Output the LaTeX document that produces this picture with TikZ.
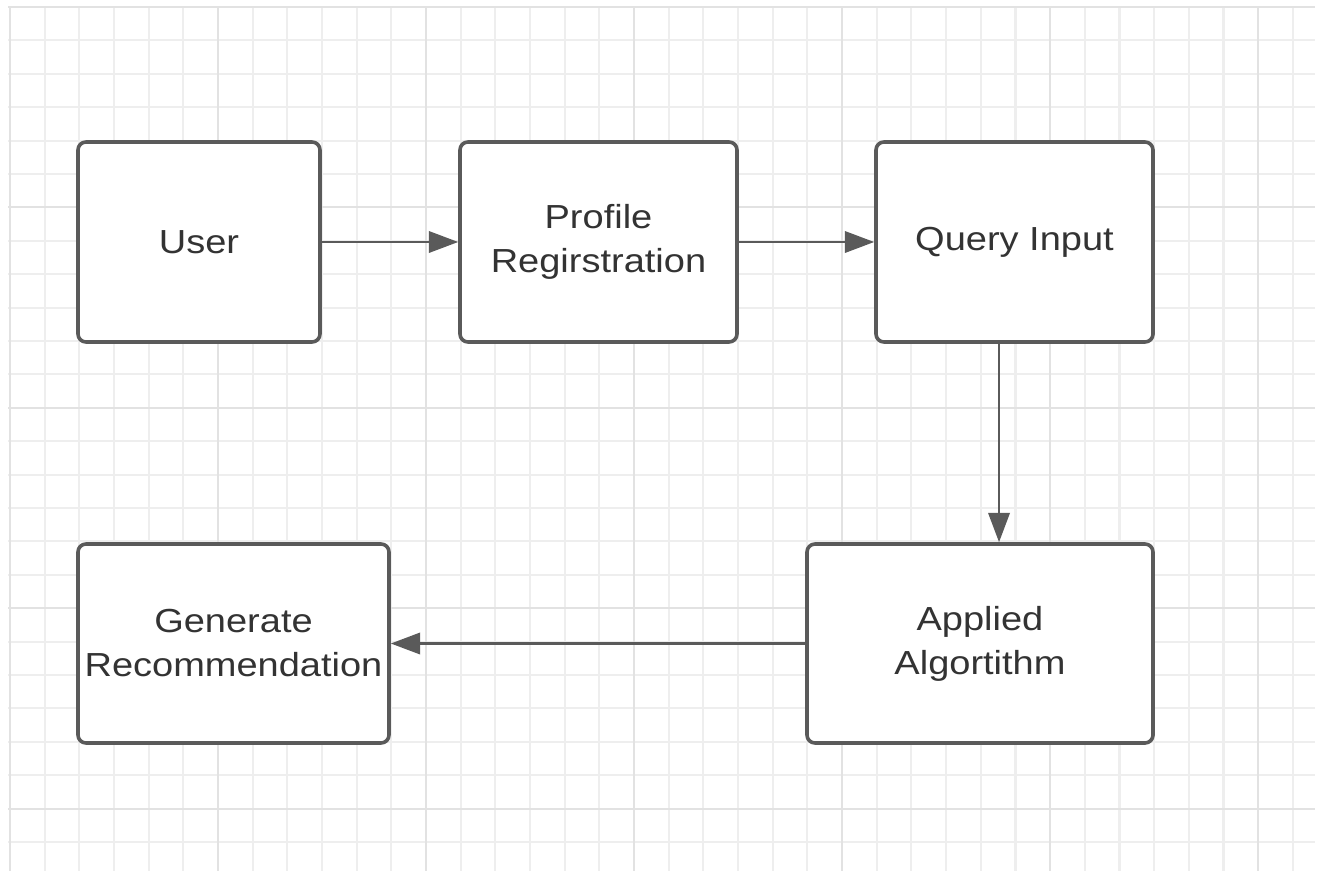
\documentclass[tikz,border=0pt]{standalone}
\usepackage{fontspec}
\setmainfont[FakeStretch=1.14]{Liberation Sans}
\usetikzlibrary{arrows.meta}
\definecolor{gridminor}{HTML}{EEEEEE}
\definecolor{gridmajor}{HTML}{E2E2E2}
\definecolor{boxline}{HTML}{5A5A5A}
\definecolor{labeltext}{HTML}{333333}

\begin{document}
\begin{tikzpicture}[x=0.75pt,y=-0.75pt,
  stage/.style={draw=boxline,line width=2.7pt,rounded corners=6pt,fill=white,
    align=center,text=labeltext,inner sep=0pt,
    font=\fontsize{25}{33}\selectfont},
  flow/.style={draw=boxline,line width=1.9pt,-{Triangle[length=22pt,width=16pt]}}]
  \useasboundingbox (0,0) rectangle (1320,871);

  % grid
  \foreach \i in {0,...,37}
    \draw[gridminor,line width=1.6pt] ({10+34.67*\i},6) -- ({10+34.67*\i},871);
  \foreach \j in {0,...,25}
    \draw[gridminor,line width=1.6pt] (8,{7+33.4*\j}) -- (1315,{7+33.4*\j});
  \foreach \i in {0,6,...,36}
    \draw[gridmajor,line width=1.6pt] ({10+34.67*\i},6) -- ({10+34.67*\i},871);
  \foreach \j in {0,6,...,24}
    \draw[gridmajor,line width=1.6pt] (8,{7+33.4*\j}) -- (1315,{7+33.4*\j});

  \node[stage,minimum width=181.5pt,minimum height=150pt] (user) at (199,242) {User};
  \node[stage,minimum width=207.75pt,minimum height=150pt] (profile) at (598.5,242) {Profile\\Regirstration};
  \node[stage,minimum width=207.75pt,minimum height=150pt] (query) at (1014.5,242) {Query Input};
  \node[stage,minimum width=259.5pt,minimum height=149.25pt] (algo) at (980,643.5) {Applied\\Algortithm};
  \node[stage,minimum width=233.25pt,minimum height=149.25pt] (gen) at (233.5,643.5) {Generate\\Recommendation};

  \draw[flow] (user) -- (profile);
  \draw[flow] (profile) -- (query);
  \draw[flow] ([xshift=-11.6pt]query.south) -- ([xshift=-11.6pt]query.south |- algo.north);
  \draw[flow] (algo) -- (gen);
\end{tikzpicture}
\end{document}
